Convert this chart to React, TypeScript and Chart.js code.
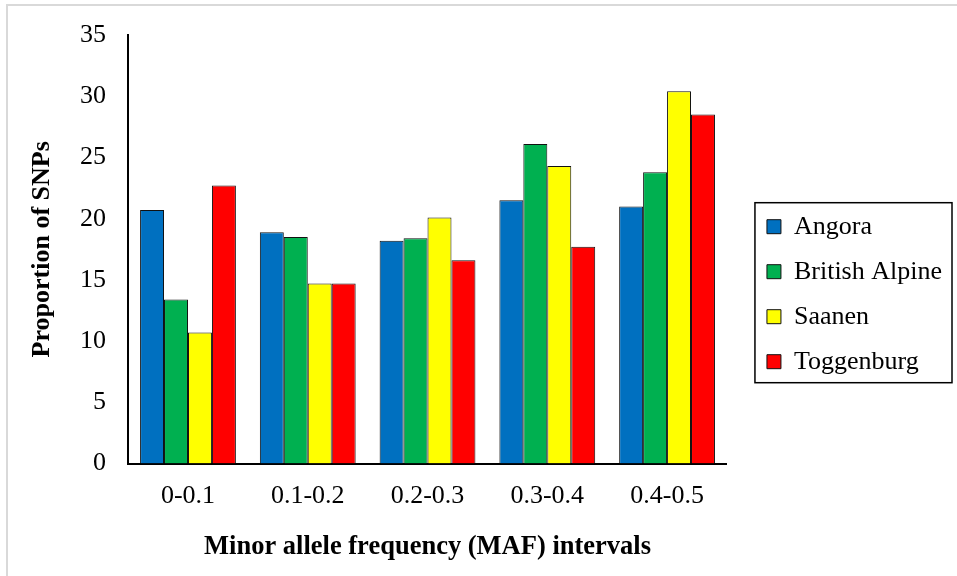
import React, { useEffect, useRef } from "react";
import { Chart, registerables } from "chart.js";

Chart.register(...registerables);

const categories = ["0-0.1", "0.1-0.2", "0.2-0.3", "0.3-0.4", "0.4-0.5"];
const seriesNames = ["Angora", "British Alpine", "Saanen", "Toggenburg"];
const angora = [20.7, 18.9, 18.2, 21.5, 21.0];
const britishAlpine = [13.4, 18.5, 18.4, 26.1, 23.8];
const saanen = [10.7, 14.7, 20.1, 24.3, 30.4];
const toggenburg = [22.7, 14.7, 16.6, 17.7, 28.5];
const seriesColors = ["#0070C0", "#00B050", "#FFFF00", "#FF0000"];
const yTicks = [0, 5, 10, 15, 20, 25, 30, 35];
const xTitle = "Minor allele frequency (MAF) intervals";
const yTitle = "Proportion of SNPs";

const FONT = "'Liberation Serif', 'Times New Roman', serif";

const legendBorder = {
  id: "legendBorder",
  afterDraw(chart: any) {
    const lg = chart.legend;
    if (!lg || !lg.legendHitBoxes || !lg.legendHitBoxes.length) return;
    const hb = lg.legendHitBoxes;
    let l = Infinity, r = -Infinity, t = Infinity, b = -Infinity;
    for (const h of hb) {
      l = Math.min(l, h.left);
      r = Math.max(r, h.left + h.width);
      t = Math.min(t, h.top);
      b = Math.max(b, h.top + h.height);
    }
    const ctx = chart.ctx;
    ctx.save();
    ctx.strokeStyle = "#000";
    ctx.lineWidth = 1.5;
    ctx.strokeRect(l - 12, t - 11, r - l + 22, b - t + 19);
    ctx.restore();
  },
};

export default function App() {
  const ref = useRef<HTMLCanvasElement | null>(null);

  useEffect(() => {
    if (!ref.current) return;
    const data = [angora, britishAlpine, saanen, toggenburg];
    const chart = new Chart(ref.current, {
      type: "bar",
      data: {
        labels: categories,
        datasets: seriesNames.map((name, i) => ({
          label: name,
          data: data[i],
          backgroundColor: seriesColors[i],
          borderColor: "#111",
          borderWidth: 1,
          categoryPercentage: 0.8,
          barPercentage: 1.0,
          yAxisID: "y",
        })),
      },
      options: {
        animation: false,
        responsive: true,
        maintainAspectRatio: false,
        layout: { padding: { top: 21.4, bottom: 9, left: 8, right: 5 } },
        plugins: {
          tooltip: { enabled: false },
          legend: {
            position: "right",
            align: "center",
            maxWidth: 400,
            labels: {
              font: { family: FONT, size: 26 },
              color: "#000",
              boxWidth: 14,
              boxHeight: 14,
              padding: 19,
            },
          },
        },
        scales: {
          x: {
            grid: { display: false, drawTicks: false, tickLength: 0 },
            border: { display: true, color: "#000", width: 2 },
            ticks: {
              font: { family: FONT, size: 26 },
              color: "#000",
              padding: 16.5,
              maxRotation: 0,
            },
            title: {
              display: true,
              text: xTitle,
              font: { family: FONT, size: 26.5, weight: "bold" },
              color: "#000",
              padding: { top: 3.2, bottom: 4.2 },
            },
          },
          y: {
            min: 0,
            max: 35,
            afterBuildTicks: (s: any) => {
              s.ticks = yTicks.map((v) => ({ value: v }));
            },
            afterFit: (s: any) => {
              s.paddingTop = 35;
            },
            grid: { display: false, drawTicks: false, tickLength: 0 },
            border: { display: true, color: "#000", width: 2 },
            ticks: {
              font: { family: FONT, size: 26 },
              color: "#000",
              padding: 22,
            },
            title: {
              display: true,
              text: yTitle,
              font: { family: FONT, size: 26, weight: "bold" },
              color: "#000",
              padding: { top: 18.9, bottom: 0 },
            },
          },
          gap: {
            type: "linear",
            position: "right",
            display: true,
            grid: { display: false, drawTicks: false },
            border: { display: false },
            ticks: { display: false },
            afterFit: (s: any) => {
              s.width = 21;
            },
          },
        },
      },
      plugins: [legendBorder],
    } as any);
    return () => chart.destroy();
  }, []);

  return (
    <div style={{ position: "absolute", left: 0, top: 0, width: 957, height: 576, background: "#fff" }}>
      <div
        style={{
          position: "absolute",
          left: 6,
          top: 4,
          width: 960,
          height: 580,
          borderLeft: "2px solid #d9d9d9",
          borderTop: "2px solid #d9d9d9",
          boxSizing: "border-box",
        }}
      />
      <div style={{ position: "absolute", left: 0, top: 0, width: 957, height: 576 }}>
        <canvas ref={ref} />
      </div>
    </div>
  );
}
